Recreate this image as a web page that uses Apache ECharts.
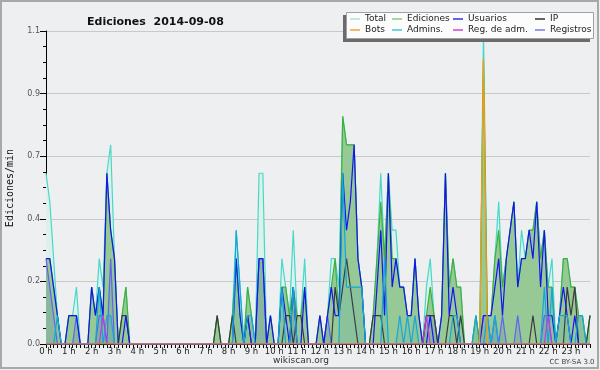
<!DOCTYPE html>
<html><head><meta charset="utf-8">
<script src="https://cdn.jsdelivr.net/npm/echarts@6/dist/echarts.min.js"></script>
<style>html,body{margin:0;padding:0;background:#eeeff1;}#c{width:600px;height:370px;}</style>
</head><body><div id="c"></div>
<script>
// 10-minute buckets, 00:00 .. 23:50
const categories = [
"0:00","0:10","0:20","0:30","0:40","0:50","1:00","1:10","1:20","1:30","1:40","1:50",
"2:00","2:10","2:20","2:30","2:40","2:50","3:00","3:10","3:20","3:30","3:40","3:50",
"4:00","4:10","4:20","4:30","4:40","4:50","5:00","5:10","5:20","5:30","5:40","5:50",
"6:00","6:10","6:20","6:30","6:40","6:50","7:00","7:10","7:20","7:30","7:40","7:50",
"8:00","8:10","8:20","8:30","8:40","8:50","9:00","9:10","9:20","9:30","9:40","9:50",
"10:00","10:10","10:20","10:30","10:40","10:50","11:00","11:10","11:20","11:30","11:40","11:50",
"12:00","12:10","12:20","12:30","12:40","12:50","13:00","13:10","13:20","13:30","13:40","13:50",
"14:00","14:10","14:20","14:30","14:40","14:50","15:00","15:10","15:20","15:30","15:40","15:50",
"16:00","16:10","16:20","16:30","16:40","16:50","17:00","17:10","17:20","17:30","17:40","17:50",
"18:00","18:10","18:20","18:30","18:40","18:50","19:00","19:10","19:20","19:30","19:40","19:50",
"20:00","20:10","20:20","20:30","20:40","20:50","21:00","21:10","21:20","21:30","21:40","21:50",
"22:00","22:10","22:20","22:30","22:40","22:50","23:00","23:10","23:20","23:30","23:40","23:50"];

const total = [
.6,.5,.3,.1,0,0, .1,.1,.2,0,0,0, .2,.1,.3,.2,.6,.7, .3,0,.1,.2,0,0,
0,0,0,0,0,0, 0,0,0,0,0,0, 0,0,0,0,0,0, 0,0,0,.1,0,0,
0,.1,.4,.2,0,.2, .1,0,.6,.6,0,.1, 0,0,.3,.2,.1,.4, .1,.1,.3,0,0,0,
.1,0,.1,.3,.3,.2, .8,.7,.7,.7,.3,.2, 0,0,.1,.3,.6,.3, .6,.4,.4,.2,.2,.1,
.1,.3,.1,0,.2,.3, .1,0,.1,.6,.2,.3, .2,.2,0,0,0,.1, 0,1.1,.1,.1,.3,.5,
.2,.3,.4,.5,.2,.4, .3,.4,.4,.5,.3,.4, .2,.3,0,.1,.3,.3, .2,.2,.1,.1,0,.1];

const ediciones = [
.3,.3,.2,.1,0,0, .1,.1,.1,0,0,0, .2,.1,.2,.1,.6,.4, .3,0,.1,.2,0,0,
0,0,0,0,0,0, 0,0,0,0,0,0, 0,0,0,0,0,0, 0,0,0,.1,0,0,
0,.1,.3,.1,0,.2, .1,0,.3,.3,0,.1, 0,0,.2,.2,.1,.2, .1,.1,.2,0,0,0,
.1,0,.1,.2,.3,.1, .8,.7,.7,.7,.3,.2, 0,0,.1,.3,.5,.3, .6,.3,.3,.2,.2,.1,
.1,.3,.1,0,.1,.2, .1,0,.1,.6,.2,.3, .2,.2,0,0,0,.1, 0,1.0,.1,.1,.3,.4,
.2,.3,.4,.5,.2,.3, .3,.4,.4,.5,.3,.4, .2,.2,0,.1,.3,.3, .2,.2,.1,.1,0,.1];

const usuarios = [
.3,.3,.2,.1,0,0, .1,.1,.1,0,0,0, .2,.1,.2,.1,.6,.4, .3,0,0,.1,0,0,
0,0,0,0,0,0, 0,0,0,0,0,0, 0,0,0,0,0,0, 0,0,0,0,0,0,
0,0,.3,.1,0,.1, 0,0,.3,.3,0,.1, 0,0,.2,.1,0,.2, 0,0,.2,0,0,0,
.1,0,.1,.2,.1,.1, .6,.4,.5,.7,.3,.2, 0,0,0,.2,.4,.1, .6,.2,.3,.2,.2,.1,
.1,.3,.1,0,0,.1, 0,0,.1,.6,.1,.2, .1,0,0,0,0,0, 0,.1,.1,.1,.2,.3,
.1,.3,.4,.5,.2,.3, .3,.4,.3,.5,.2,.4, .1,.1,0,.1,.2,.1, 0,.1,0,0,0,0];

const ip = [
0,0,0,0,0,0, 0,0,0,0,0,0, 0,0,0,0,0,0, 0,0,.1,.1,0,0,
0,0,0,0,0,0, 0,0,0,0,0,0, 0,0,0,0,0,0, 0,0,0,.1,0,0,
0,.1,0,0,0,.1, 0,0,0,0,0,0, 0,0,0,.1,.1,0, .1,.1,0,0,0,0,
0,0,0,0,.2,.1, .2,.3,.2,.1,0,0, 0,0,.1,.1,.1,0, 0,0,0,0,0,0,
0,0,0,0,.1,.1, .1,0,0,0,.1,.1, 0,.1,0,0,0,0, 0,0,0,0,0,0,
0,0,0,0,0,0, 0,0,.1,0,0,0, 0,0,0,0,0,.2, .1,.2,0,0,0,.1];

const bots = [
0,0,0,0,0,0, 0,0,0,0,0,0, 0,0,0,0,0,0, 0,0,0,0,0,0,
0,0,0,0,0,0, 0,0,0,0,0,0, 0,0,0,0,0,0, 0,0,0,0,0,0,
0,0,0,0,0,0, 0,0,0,0,0,0, 0,0,0,0,0,0, 0,0,0,0,0,0,
0,0,0,0,0,0, 0,0,0,0,0,0, 0,0,0,0,0,0, 0,0,0,0,0,0,
0,0,0,0,0,0, 0,0,0,0,0,0, 0,0,0,0,0,0, 0,1.0,0,0,0,0,
0,0,0,0,0,0, 0,0,0,0,0,0, 0,0,0,0,0,0, 0,0,0,0,0,0];

const admins = [
0,0,0,.1,0,0, 0,0,0,0,0,0, 0,0,.2,0,.1,.1, 0,0,0,0,0,0,
0,0,0,0,0,0, 0,0,0,0,0,0, 0,0,0,0,0,0, 0,0,0,0,0,0,
0,0,.4,.2,0,.1, .1,0,0,0,0,0, 0,0,.2,0,0,.2, 0,0,0,0,0,0,
0,0,0,0,0,0, .6,.2,.2,.2,.2,.2, 0,0,0,0,0,.3, 0,0,0,.1,0,.1,
0,.1,0,0,0,0, 0,0,0,0,0,.1, .1,0,0,0,0,.1, 0,0,.1,0,.1,0,
0,0,0,0,0,0, 0,0,0,0,0,.2, 0,.2,0,.1,.1,.1, 0,0,.1,.1,0,0];

const regAdm = [
0,0,0,0,0,0, 0,0,0,0,0,0, 0,0,0,.1,0,0, 0,0,0,0,0,0,
0,0,0,0,0,0, 0,0,0,0,0,0, 0,0,0,0,0,0, 0,0,0,0,0,0,
0,0,0,0,0,0, 0,0,0,0,0,0, 0,0,0,0,0,0, 0,0,0,0,0,0,
0,0,0,0,0,0, 0,0,0,0,0,0, 0,0,0,0,0,0, 0,0,0,0,0,0,
0,0,0,0,.1,0, 0,0,0,0,0,0, 0,0,0,0,0,0, 0,0,0,0,0,0,
0,0,0,0,0,0, 0,0,0,0,0,0, .1,0,0,0,0,0, 0,0,0,0,0,0];

const registros = [
.3,.2,.1,0,0,0, 0,0,.1,0,0,0, 0,0,.1,.1,0,.3, 0,0,0,0,0,0,
0,0,0,0,0,0, 0,0,0,0,0,0, 0,0,0,0,0,0, 0,0,0,0,0,0,
0,0,0,0,0,0, 0,0,.3,.3,0,0, 0,0,0,0,0,.2, 0,0,0,0,0,0,
0,0,.1,0,0,0, 0,0,0,0,0,0, 0,0,0,0,0,0, 0,0,0,0,0,0,
0,0,0,0,.1,.1, .1,0,0,0,0,0, 0,0,0,0,0,0, 0,.1,.1,0,.1,0,
.1,0,0,0,.1,0, 0,0,0,0,0,.1, .1,0,0,0,0,0, 0,0,0,0,0,0];

const yTicks = {min: 0, max: 1.1, step: 0.22};

const chart = echarts.init(document.getElementById('c'), null, {renderer: 'canvas'});

function line(name, data, color, extra) {
  return Object.assign({
    name: name, type: 'line', data: data, symbol: 'none', smooth: false,
    color: color, lineStyle: {color: color, width: 1.2}, animation: false
  }, extra || {});
}

const legendCommon = {
  orient: 'vertical', top: 14, itemWidth: 10, itemHeight: 1.5, itemGap: 1,
  icon: 'rect', padding: 0, selectedMode: false, z: 20,
  textStyle: {fontFamily: 'DejaVu Sans', fontSize: 9, lineHeight: 10, color: '#222'}
};

chart.setOption({
  backgroundColor: '#eeeff1',
  animation: false,
  title: {
    text: 'Ediciones  2014-09-08', left: 82, top: 10,
    textStyle: {fontFamily: 'DejaVu Sans', fontWeight: 'bold', fontSize: 11, lineHeight: 14, color: '#111'}
  },
  grid: {left: 46, right: 10, top: 31, bottom: 26},
  legend: [
    Object.assign({left: 350, data: [{name: 'Total', itemStyle: {color: '#a8e4dc'}}, {name: 'Bots', itemStyle: {color: '#f0a040'}}]}, legendCommon),
    Object.assign({left: 392, data: [{name: 'Ediciones', itemStyle: {color: '#88cc88'}}, {name: 'Admins.', itemStyle: {color: '#40c8d8'}}]}, legendCommon),
    Object.assign({left: 453, data: [{name: 'Usuarios', itemStyle: {color: '#3333dd'}}, {name: 'Reg. de adm.', itemStyle: {color: '#cc44dd'}}]}, legendCommon),
    Object.assign({left: 535, data: [{name: 'IP', itemStyle: {color: '#333333'}}, {name: 'Registros', itemStyle: {color: '#7777ee'}}]}, legendCommon)
  ],
  xAxis: {
    type: 'category', data: categories, boundaryGap: false,
    axisLine: {lineStyle: {color: '#000', width: 1}},
    axisTick: {interval: 0, length: 4, lineStyle: {color: '#000'}},
    axisLabel: {
      interval: function (idx) { return idx % 6 === 0; },
      formatter: function (v) { return v.split(':')[0] + ' h'; },
      fontFamily: 'DejaVu Sans', fontSize: 8.5, color: '#222', margin: 3
    },
    splitLine: {show: false}
  },
  yAxis: {
    type: 'value', min: yTicks.min, max: yTicks.max, interval: yTicks.step,
    axisLine: {show: true, lineStyle: {color: '#000', width: 1}},
    axisTick: {show: true, length: 6, lineStyle: {color: '#000'}},
    minorTick: {show: true, splitNumber: 4, length: 3, lineStyle: {color: '#000'}},
    axisLabel: {formatter: function (v) { return v.toFixed(1); }, fontFamily: 'DejaVu Sans', fontSize: 8, color: '#555', margin: 6},
    splitLine: {show: true, lineStyle: {color: '#c9c9c9', width: 1}}
  },
  graphic: [
    {type: 'rect', z: 10, shape: {x: 1, y: 1, width: 597, height: 367}, style: {fill: 'none', stroke: '#a8a8a8', lineWidth: 2}},
    {type: 'rect', z: 10, shape: {x: 343, y: 15, width: 247, height: 27}, style: {fill: '#6b6b6b'}},
    {type: 'rect', z: 11, shape: {x: 346.5, y: 12.5, width: 247, height: 26}, style: {fill: '#fcfcfc', stroke: '#a0a0a0', lineWidth: 1}},
    {type: 'text', z: 11, x: 10, y: 188, rotation: Math.PI / 2,
     style: {text: 'Ediciones/min', fontFamily: 'DejaVu Sans Mono', fontSize: 10, fill: '#111', textAlign: 'center', textVerticalAlign: 'middle'}},
    {type: 'text', z: 11, x: 301, y: 361,
     style: {text: 'wikiscan.org', fontFamily: 'DejaVu Sans', fontSize: 9, fill: '#333', textAlign: 'center', textVerticalAlign: 'middle'}},
    {type: 'text', z: 11, x: 572, y: 362,
     style: {text: 'CC BY-SA 3.0', fontFamily: 'DejaVu Sans', fontSize: 7, fill: '#444', textAlign: 'center', textVerticalAlign: 'middle'}}
  ],
  series: [
    line('Total', total, '#48d8c8', {z: 2, areaStyle: {color: '#dcf1ec', opacity: 1}}),
    line('Ediciones', ediciones, '#3cb03c', {z: 3, areaStyle: {color: '#97c997', opacity: 1}}),
    line('Registros', registros, '#6262f0', {z: 4, areaStyle: {color: 'rgba(50,80,200,0.2)'}}),
    line('IP', ip, '#3a3a3a', {z: 5}),
    line('Usuarios', usuarios, '#1414f0', {z: 6}),
    line('Admins.', admins, '#12a8d8', {z: 7, areaStyle: {color: 'rgba(0,140,200,0.12)'}}),
    line('Reg. de adm.', regAdm, '#cc33dd', {z: 8}),
    line('Bots', bots, '#ff9a10', {z: 9})
  ]
});
</script></body></html>
